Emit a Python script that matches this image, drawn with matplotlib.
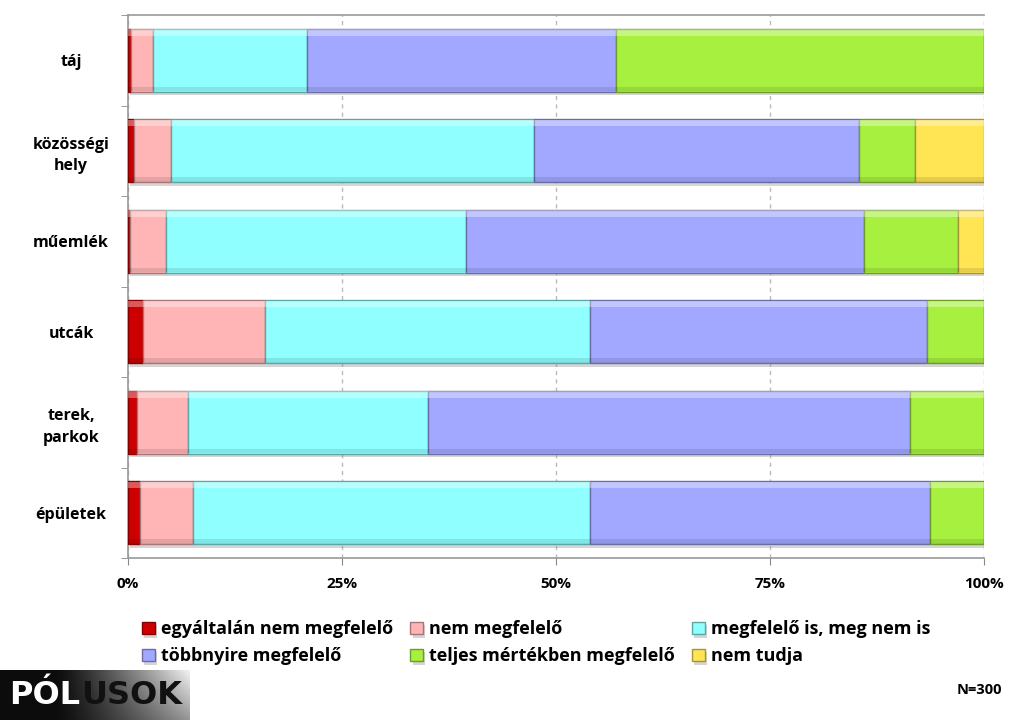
import matplotlib
matplotlib.use("Agg")
import matplotlib.pyplot as plt
import matplotlib.patheffects as pe
import numpy as np
from matplotlib.colors import to_rgb

plt.rcParams['font.family'] = ['Open Sans', 'DejaVu Sans']

# helyszínek, felülről lefelé
categories = ['táj', 'közösségi\nhely', 'műemlék', 'utcák', 'terek,\nparkok', 'épületek']
series_names = ['egyáltalán nem megfelelő', 'nem megfelelő', 'megfelelő is, meg nem is',
                'többnyire megfelelő', 'teljes mértékben megfelelő', 'nem tudja']

# százalékok (%)
egyaltalan_nem = [0.3, 0.7, 0.2, 1.7, 1.1, 1.4]
nem_megfelelo = [2.6, 4.3, 4.2, 14.3, 5.9, 6.2]
is_is = [18.0, 42.4, 35.1, 38.0, 28.0, 46.4]
tobbnyire = [36.1, 38.0, 46.5, 39.3, 56.4, 39.7]
teljesen = [43.0, 6.5, 11.0, 6.7, 8.6, 6.3]
nem_tudja = [0.0, 8.1, 3.0, 0.0, 0.0, 0.0]

colors = ['#CC0000', '#FFB5B5', '#8FFFFF', '#A2A8FF', '#A8F040', '#FFE454']
x_ticks = [0, 25, 50, 75, 100]
x_ticklabels = ['0%', '25%', '50%', '75%', '100%']


def darker(c, f=0.65):
    r, g, b = to_rgb(c)
    return (r * f, g * f, b * f)


fig = plt.figure(figsize=(10.22, 7.2), dpi=100)
ax = fig.add_axes([128 / 1022, 1 - 558 / 720, 856 / 1022, 543 / 720])

data = [egyaltalan_nem, nem_megfelelo, is_is, tobbnyire, teljesen, nem_tudja]
y = np.arange(len(categories))
left = np.zeros(len(categories))
bar_h = 0.70
handles = []
shadow = [pe.SimplePatchShadow(offset=(1.5, -2.5), shadow_rgbFace='#888888', alpha=0.35), pe.Normal()]
for vals, name, col in zip(data, series_names, colors):
    vals = np.array(vals)
    bars = ax.barh(y, vals, left=left, height=bar_h, color=col,
                   edgecolor=darker(col), linewidth=1.0, label=name, zorder=3)
    for b in bars:
        b.set_path_effects(shadow)
    # világos sáv a szegmensek tetején, sötétebb az alján (domború hatás)
    ax.barh(y - bar_h / 2 + 0.045, vals, left=left, height=0.07, color='white',
            alpha=0.35, linewidth=0, zorder=4)
    ax.barh(y + bar_h / 2 - 0.03, vals, left=left, height=0.05, color='black',
            alpha=0.10, linewidth=0, zorder=4)
    handles.append(bars)
    left += vals

ax.set_xlim(0, 100)
ax.set_ylim(len(categories) - 0.5, -0.5)
ax.set_yticks(y)
ax.set_yticklabels(categories, fontsize=11.5, fontweight='bold', ha='center',
                   linespacing=1.45)
ax.tick_params(axis='y', length=0, pad=41)
ax.set_yticks(np.arange(len(categories) + 1) - 0.5, minor=True)
ax.tick_params(axis='y', which='minor', length=5, color='#888888')
ax.set_xticks(x_ticks)
ax.set_xticklabels(x_ticklabels, fontsize=11, fontweight='bold')
ax.tick_params(axis='x', length=5, color='#888888', pad=9)

ax.grid(axis='x', linestyle=(0, (3, 3)), color='#BBBBBB', linewidth=1, zorder=0)
for s in ['left', 'bottom', 'top']:
    ax.spines[s].set_color('#999999')
    ax.spines[s].set_linewidth(1.2)
ax.spines['right'].set_visible(False)

order = [0, 3, 1, 4, 2, 5]
fig.legend([handles[i] for i in order], [series_names[i] for i in order],
           loc='upper left', bbox_to_anchor=(126 / 1022, 1 - 604 / 720), ncol=3,
           frameon=False, handlelength=0.7, handleheight=0.7, handletextpad=0.35,
           columnspacing=0.95, labelspacing=0.5, prop={'size': 13, 'weight': 'bold'})

fig.text(1002 / 1022, 1 - 690 / 720, 'N=300', ha='right', va='center',
         fontsize=10.5, fontweight='bold')

# PÓLUSOK logó
lax = fig.add_axes([0, 0, 190 / 1022, 50 / 720])
grad_x = np.linspace(0, 1, 200)
grad_y = np.linspace(0, 1, 40)[:, None]
img = np.clip(0.05 + 0.9 * np.clip((grad_x - 0.3) / 0.7, 0, 1) ** 1.2 * (0.6 + 0.4 * grad_y), 0, 1)
lax.imshow(img, cmap='gray', vmin=0, vmax=1, aspect='auto', extent=(0, 1, 0, 1), origin='lower')
t1 = lax.text(0.05, 0.5, 'PÓL', color='white', fontsize=23, fontweight='heavy',
              family=['DejaVu Sans'], va='center', ha='left', transform=lax.transAxes)
lax.annotate('USOK', xy=(1, 0.5), xycoords=t1, va='center', ha='left',
             color='#111111', fontsize=23, fontweight='heavy', family=['DejaVu Sans'])
lax.set_axis_off()

fig.savefig('out.png', dpi=100)
